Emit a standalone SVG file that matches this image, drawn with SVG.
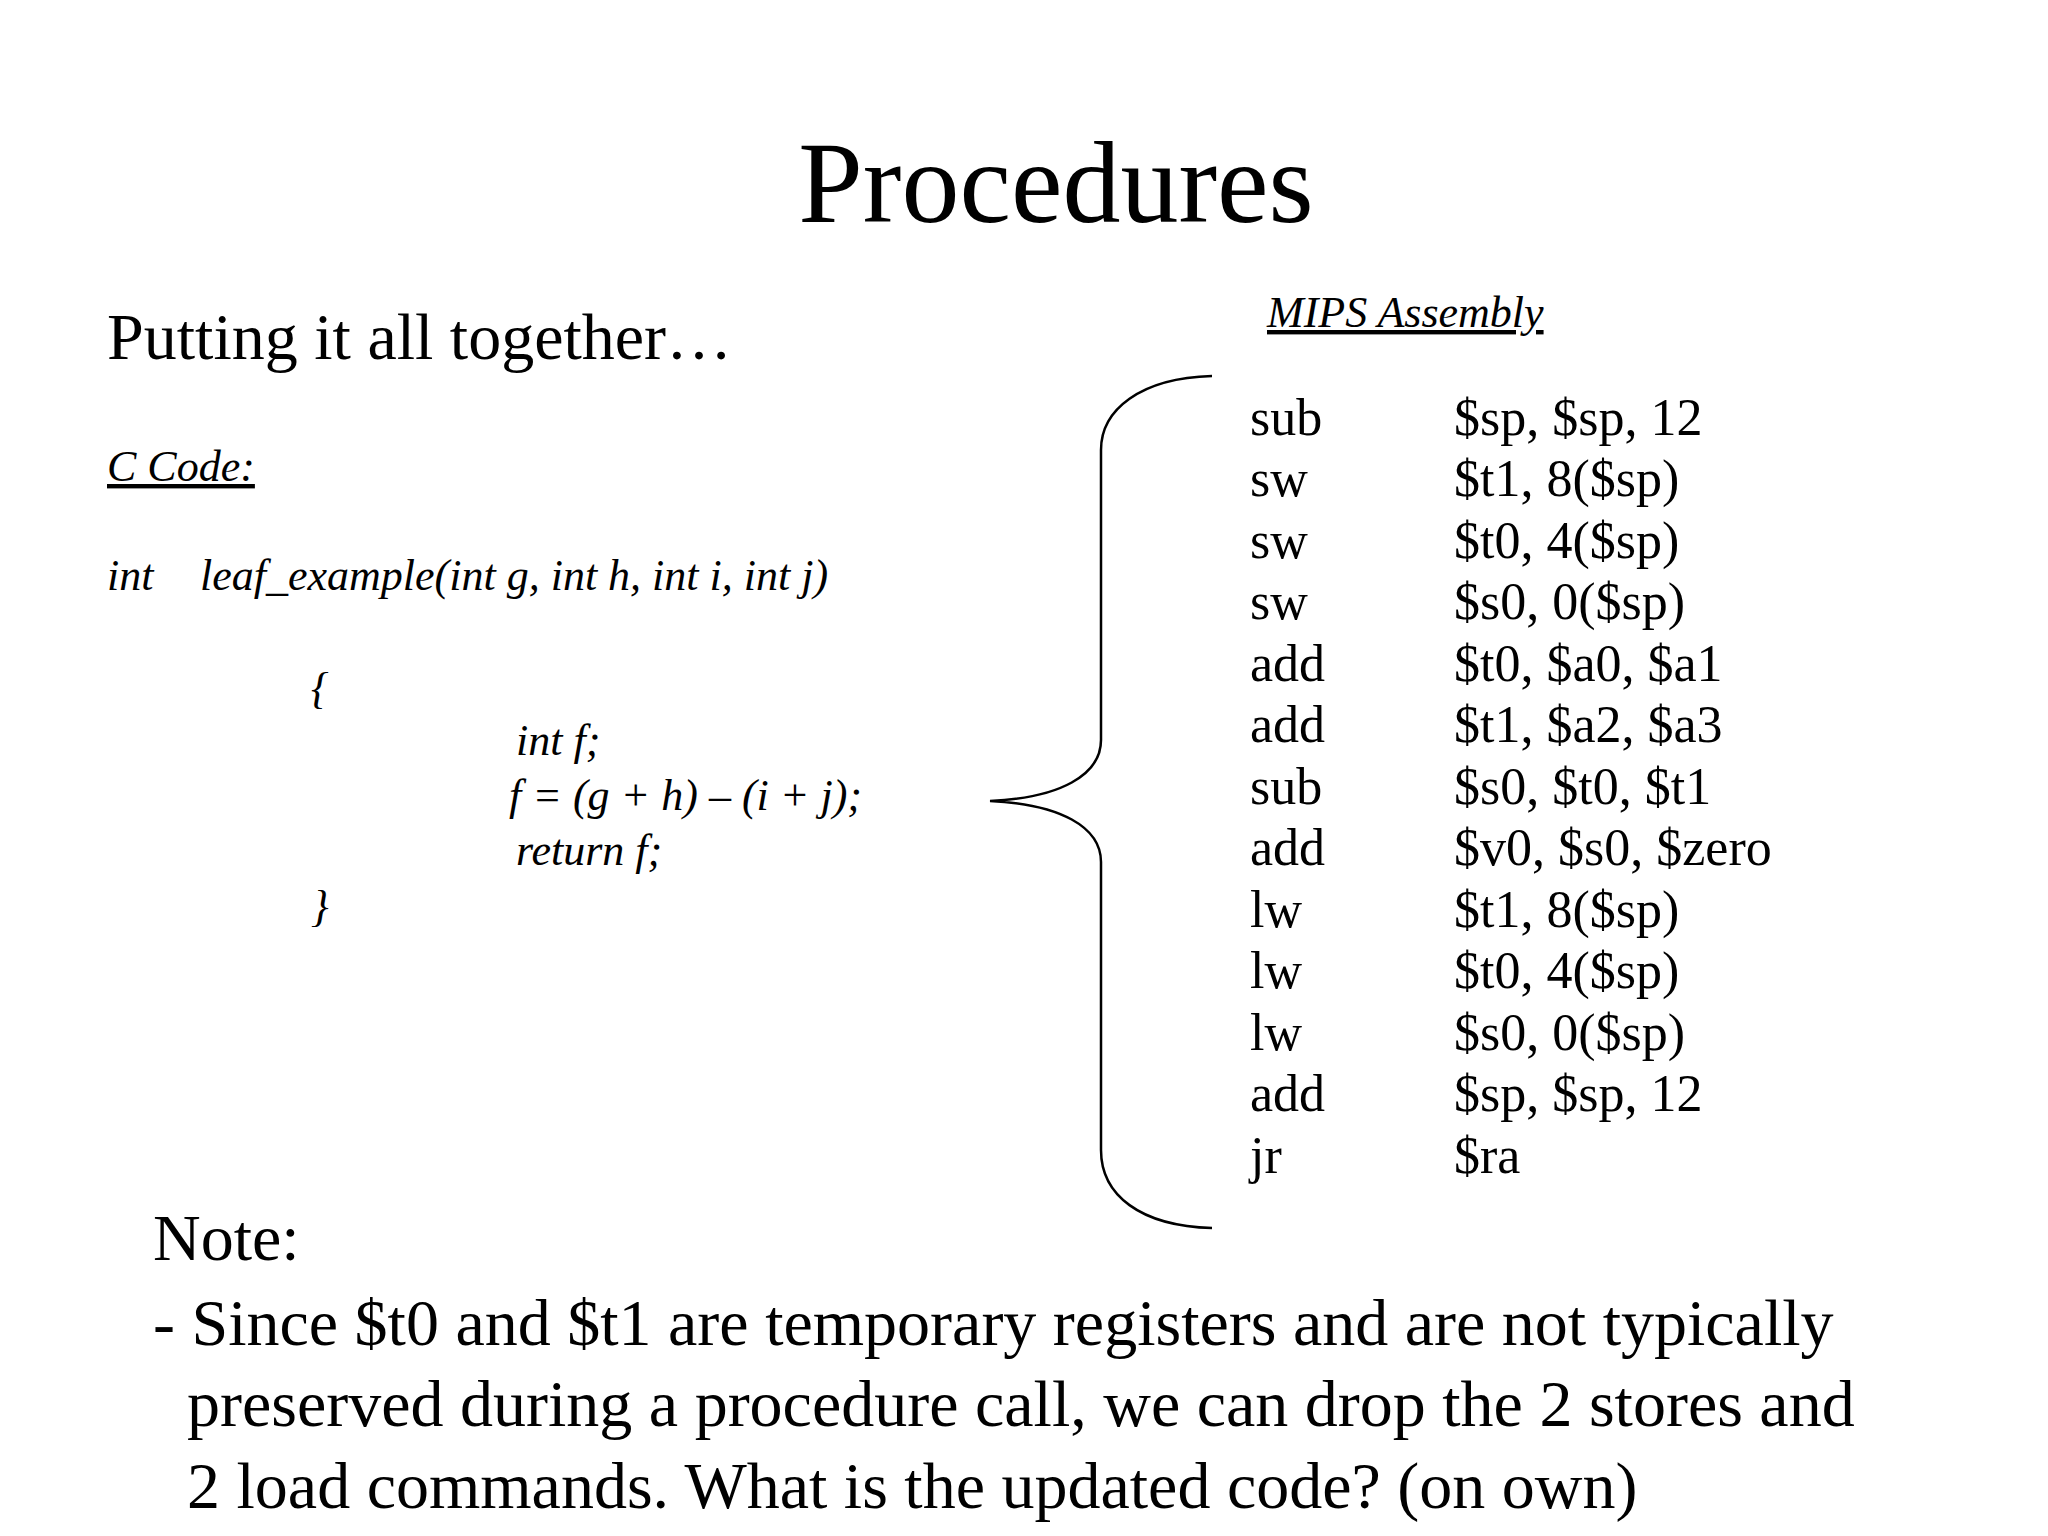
<svg xmlns="http://www.w3.org/2000/svg" width="2048" height="1536" viewBox="0 0 2048 1536">
<style>
text{font-family:"Liberation Serif","Times New Roman",serif;fill:#000}
.c{font-size:44px;font-style:italic}
.a{font-size:52px}
.n{font-size:66px}
</style>
<rect width="2048" height="1536" fill="#fff"/>
<text x="1056" y="222" font-size="116" text-anchor="middle">Procedures</text>
<text x="107" y="359" font-size="66">Putting it all together…</text>
<text x="107" y="481" class="c" text-decoration="underline">C Code:</text>
<text x="107" y="590" class="c">int</text>
<text x="200" y="590" class="c">leaf_example(int g, int h, int i, int j)</text>
<text x="311" y="703" class="c">{</text>
<text x="516" y="755" class="c">int f;</text>
<text x="509" y="810" class="c">f = (g + h) – (i + j);</text>
<text x="516" y="865" class="c">return f;</text>
<text x="311" y="921" class="c">}</text>
<text x="1267" y="327" class="c" text-decoration="underline">MIPS Assembly</text>
<g id="connectors"><path d="M1212,376 C1140,378 1101,410 1101,450 L1101,740 C1101,775 1060,798 990,801 C1060,804 1101,827 1101,862 L1101,1150 C1101,1195 1140,1226 1212,1228" fill="none" stroke="#000" stroke-width="2.5"/></g>
<g class="a">
<text x="1250" y="435">sub</text><text x="1454" y="435">$sp, $sp, 12</text>
<text x="1250" y="496">sw</text><text x="1454" y="496">$t1, 8($sp)</text>
<text x="1250" y="558">sw</text><text x="1454" y="558">$t0, 4($sp)</text>
<text x="1250" y="619">sw</text><text x="1454" y="619">$s0, 0($sp)</text>
<text x="1250" y="681">add</text><text x="1454" y="681">$t0, $a0, $a1</text>
<text x="1250" y="742">add</text><text x="1454" y="742">$t1, $a2, $a3</text>
<text x="1250" y="804">sub</text><text x="1454" y="804">$s0, $t0, $t1</text>
<text x="1250" y="865">add</text><text x="1454" y="865">$v0, $s0, $zero</text>
<text x="1250" y="927">lw</text><text x="1454" y="927">$t1, 8($sp)</text>
<text x="1250" y="988">lw</text><text x="1454" y="988">$t0, 4($sp)</text>
<text x="1250" y="1050">lw</text><text x="1454" y="1050">$s0, 0($sp)</text>
<text x="1250" y="1111">add</text><text x="1454" y="1111">$sp, $sp, 12</text>
<text x="1250" y="1173">jr</text><text x="1454" y="1173">$ra</text>
</g>
<g class="n">
<text x="153" y="1260">Note:</text>
<text x="153" y="1345">- Since $t0 and $t1 are temporary registers and are not typically</text>
<text x="187" y="1426">preserved during a procedure call, we can drop the 2 stores and</text>
<text x="187" y="1508">2 load commands. What is the updated code?  (on own)</text>
</g>
</svg>
